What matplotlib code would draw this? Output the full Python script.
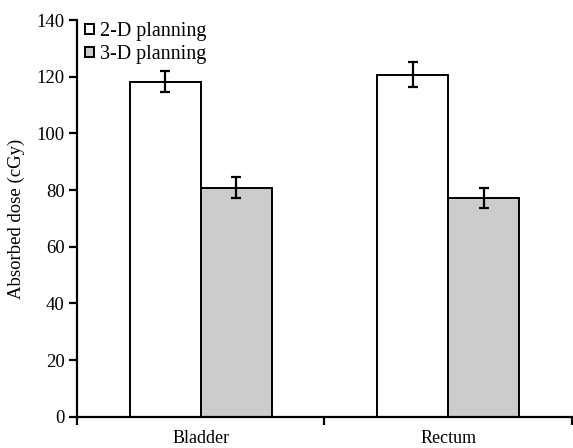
import numpy as np
import matplotlib.pyplot as plt

plt.rcParams['font.family'] = ['Liberation Serif', 'DejaVu Serif']

categories = ['Bladder', 'Rectum']
planning = ['2-D planning', '3-D planning']
dose_2d = [118.2, 120.8]
err_2d = [3.7, 4.4]
dose_3d = [80.9, 77.2]
err_3d = [3.7, 3.4]

x = np.arange(len(categories))
w = 0.287

fig = plt.figure(figsize=(5.73, 4.48), dpi=100)
ax = fig.add_axes([0.1345, 0.07, 0.8635, 0.885])

ekw = dict(elinewidth=1.6, capthick=1.6, ecolor='black')
ax.bar(x - w / 2, dose_2d, w, yerr=err_2d, capsize=3.3, color='white',
       edgecolor='black', linewidth=1.4, label=planning[0], error_kw=ekw)
ax.bar(x + w / 2, dose_3d, w, yerr=err_3d, capsize=3.3, color='#cccccc',
       edgecolor='black', linewidth=1.4, label=planning[1], error_kw=ekw)

ax.set_xlim(-0.5, len(categories) - 0.5)
ax.set_ylim(0, 140)
ax.set_yticks(np.arange(0, 141, 20))
ax.set_xticks(np.arange(-0.5, len(categories), 1.0))
ax.set_xticklabels([])
ax.set_xticks(x, minor=True)
ax.set_xticklabels(categories, minor=True)
ax.tick_params(axis='x', which='minor', length=0, pad=9.5, labelsize=13)
ax.tick_params(axis='x', which='major', length=6, width=1.6, direction='out')
ax.tick_params(axis='y', length=6, width=1.6, direction='out', labelsize=13.5, pad=3)

for s in ['top', 'right']:
    ax.spines[s].set_visible(False)
for s in ['left', 'bottom']:
    ax.spines[s].set_linewidth(1.6)

ax.set_ylabel('Absorbed dose (cGy)', fontsize=13.5, labelpad=8)

ax.legend(loc='upper left', bbox_to_anchor=(-0.005, 1.02), frameon=False,
          fontsize=14.5, handlelength=0.48, handleheight=0.4, handletextpad=0.3,
          labelspacing=0.2, borderaxespad=0.1)

fig.savefig('out.png', dpi=100)
